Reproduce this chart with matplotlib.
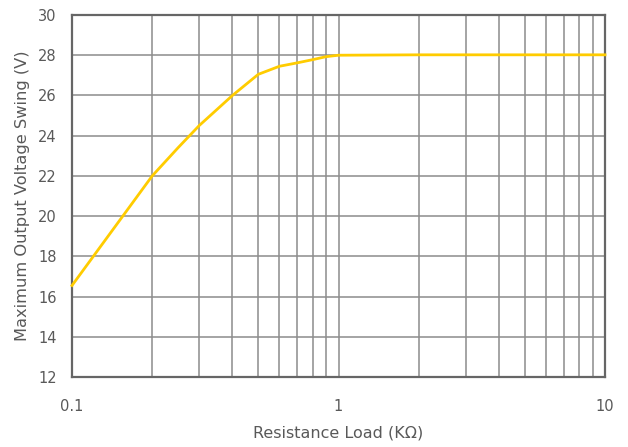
import matplotlib
matplotlib.use("Agg")
import matplotlib.pyplot as plt
from matplotlib.ticker import LogLocator, FixedLocator, NullFormatter

# Data
load_kohm = [0.1, 0.2, 0.25, 0.3, 0.4, 0.5, 0.6, 0.7, 0.8, 0.9, 1.0, 2.0, 5.0, 10.0]
swing_v = [16.55, 22.0, 23.4, 24.5, 26.0, 27.05, 27.45, 27.62, 27.78, 27.93, 28.0, 28.02, 28.02, 28.02]

y_ticks = [12, 14, 16, 18, 20, 22, 24, 26, 28, 30]
x_ticks = [0.1, 1, 10]
x_tick_labels = ["0.1", "1", "10"]

plt.rcParams['font.family'] = ['DejaVu Sans']
text_color = "#595959"

fig = plt.figure(figsize=(6.28, 4.47), dpi=100)
ax = fig.add_axes([72/628, 1 - 377/447, (605-72)/628, (377-15)/447])

ax.plot(load_kohm, swing_v, color="#FFCC00", lw=2.0, zorder=3, clip_on=False)

ax.set_xscale("log")
ax.set_xlim(0.1, 10)
ax.set_ylim(12, 30)
ax.set_yticks(y_ticks)
ax.xaxis.set_major_locator(FixedLocator(x_ticks))
ax.set_xticklabels(x_tick_labels)
ax.xaxis.set_minor_locator(LogLocator(base=10, subs=range(2, 10)))
ax.xaxis.set_minor_formatter(NullFormatter())

ax.grid(True, which="both", axis="x", color="#8c8c8c", lw=1.1)
ax.grid(True, which="major", axis="y", color="#8c8c8c", lw=1.1)
ax.set_axisbelow(True)

for s in ax.spines.values():
    s.set_color("#666666")
    s.set_linewidth(1.6)

ax.tick_params(which="both", length=0, colors=text_color, labelsize=10.5)
ax.tick_params(axis="x", pad=16)
ax.tick_params(axis="y", pad=11)

ax.set_xlabel("Resistance Load (KΩ)", color=text_color, fontsize=11.5, labelpad=8)
ax.set_ylabel("Maximum Output Voltage Swing (V)", color=text_color, fontsize=11.7, labelpad=6)

fig.savefig("out.png", dpi=100)
